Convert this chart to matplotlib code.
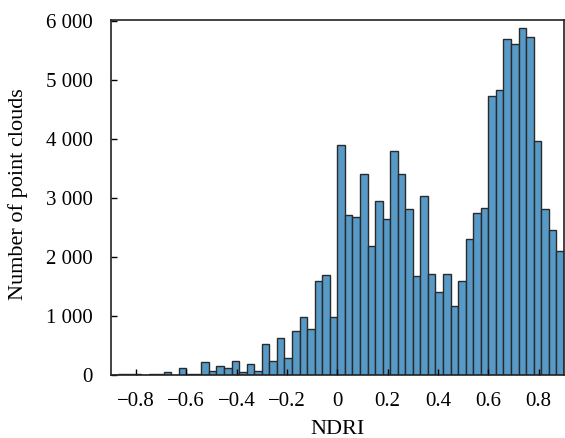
import numpy as np
import matplotlib
matplotlib.use("Agg")
import matplotlib.pyplot as plt
from matplotlib.ticker import FuncFormatter

# Histogram of NDRI values: 60 bins of width 0.03 from -0.9 to 0.9
bin_start = -0.9
bin_width = 0.03
counts = [5, 15, 15, 15, 0, 20, 25, 45, 5, 120,
          10, 25, 215, 70, 150, 120, 230, 55, 180, 70,
          520, 230, 630, 280, 750, 990, 780, 1590, 1690, 990,
          3900, 2710, 2680, 3400, 2190, 2940, 2640, 3800, 3400, 2810,
          1685, 3030, 1705, 1410, 1705, 1175, 1590, 2310, 2750, 2830,
          4735, 4825, 5690, 5600, 5875, 5735, 3965, 2815, 2450, 2100]
x_ticks = [-0.8, -0.6, -0.4, -0.2, 0, 0.2, 0.4, 0.6, 0.8]
y_ticks = [0, 1000, 2000, 3000, 4000, 5000, 6000]

plt.rcParams['font.family'] = ['Liberation Serif', 'DejaVu Serif']

fig = plt.figure(figsize=(5.65, 4.38), dpi=100)
ax = fig.add_axes([0.196, 0.1438, 0.802, 0.8112])

lefts = bin_start + bin_width * np.arange(len(counts))
ax.bar(lefts, counts, width=bin_width, align='edge',
       color='#5799c7', edgecolor='#2a2a2a', linewidth=1.0)

ax.set_xlim(-0.9, 0.9)
ax.set_ylim(0, 6020)
ax.set_xticks(x_ticks)
ax.set_yticks(y_ticks)

def xfmt(v, pos):
    if abs(v) < 1e-9:
        return '0'
    s = f'{v:.1f}'
    return s.replace('-', '\u2212')

def yfmt(v, pos):
    v = int(round(v))
    if v >= 1000:
        return f'{v // 1000} {v % 1000:03d}'
    return str(v)

ax.xaxis.set_major_formatter(FuncFormatter(xfmt))
ax.yaxis.set_major_formatter(FuncFormatter(yfmt))
ax.tick_params(direction='in', length=4, width=1, labelsize=15)
ax.tick_params(axis='x', pad=12)
ax.tick_params(axis='y', pad=13)
for s in ax.spines.values():
    s.set_linewidth(1.2)
    s.set_color('#222222')

ax.set_xlabel('NDRI', fontsize=16)
ax.set_ylabel('Number of point clouds', fontsize=16)
ax.xaxis.set_label_coords(0.5, -0.126)
ax.yaxis.set_label_coords(-0.182, 0.51)

fig.savefig('out.png', dpi=100)
